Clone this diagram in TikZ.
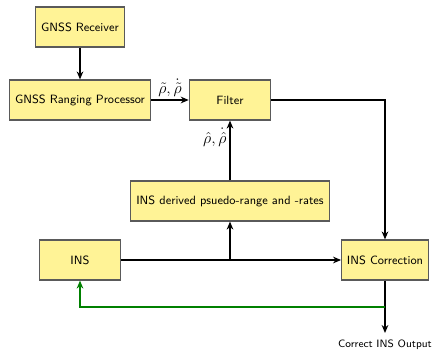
\documentclass[tikz,border=0pt]{standalone}
\usepackage{tikz}
\usetikzlibrary{arrows.meta}
\definecolor{boxfill}{RGB}{255,243,150}
\definecolor{boxline}{RGB}{90,90,90}
\definecolor{loopgreen}{RGB}{0,128,0}
\tikzset{
  block/.style={draw=boxline, fill=boxfill, line width=0.9pt, minimum height=30pt, inner sep=2pt, font=\sffamily\small},
  flow/.style={line width=1.4pt, -{Stealth[length=6pt,width=5pt]}},
  sig/.style={font=\large, inner sep=2pt},
}

\begin{document}
\begin{tikzpicture}[x=0.75pt, y=-0.75pt]
                        \useasboundingbox (0,0) rectangle (435,350);
                        \node[block, minimum width=67pt] (rx) at (80,27) {GNSS Receiver};
                        \node[block, minimum width=106pt] (rp) at (80,100) {GNSS Ranging Processor};
                        \node[block, minimum width=61pt] (filt) at (230,100) {Filter};
                        \node[block, minimum width=149pt] (der) at (230,201) {INS derived psuedo-range and -rates};
                        \node[block, minimum width=61pt] (ins) at (80,260) {INS};
                        \node[block, minimum width=65pt] (corr) at (385,260) {INS Correction};
                        \coordinate (split) at (230,260);
                        \coordinate (fb) at (385,307);
                        \coordinate (out) at (385,333);
                        \node[font=\sffamily\footnotesize, inner sep=1pt] (outlbl) at (385,345) {Correct INS Output};
                        \draw[flow] (rx) -- (rp);
                        \draw[flow] (rp) -- node[sig, above] {$\tilde{\rho},\dot{\tilde{\rho}}$} (filt);
                        \draw[flow] (filt.east) -| (corr.north);
                        \draw[flow] (der) -- node[sig, pos=0.72, left] {$\hat{\rho},\dot{\hat{\rho}}$} (filt);
                        \draw[flow] (ins) -- (corr);
                        \draw[flow] (split) -- (der);
                        \draw[flow] (corr) -- (out);
                        \draw[flow, draw=loopgreen, line width=1.2pt] (fb) -| (ins.south);
                    \end{tikzpicture}
\end{document}
